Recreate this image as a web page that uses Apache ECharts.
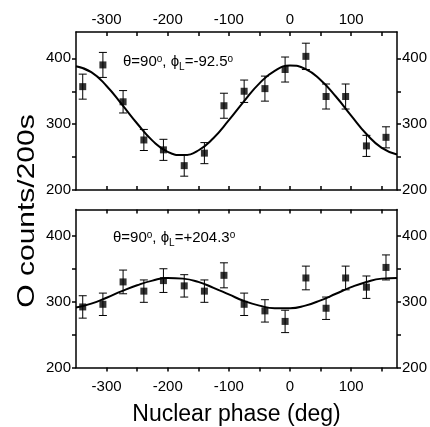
<!DOCTYPE html>
<html>
<head>
<meta charset="utf-8">
<script src="https://cdn.jsdelivr.net/npm/echarts@6/dist/echarts.min.js"></script>
<style>
  html, body { margin: 0; padding: 0; background: #fff; }
  #chart { width: 430px; height: 427px; }
</style>
</head>
<body>
<div id="chart"></div>
<script>
// measured points (both panels share the same phases)
var phase = [-339, -306, -273, -239, -207, -173, -140, -108, -75, -41, -8, 26, 59, 91, 125, 157];
var countsTop = [357, 390, 334, 276, 261, 237, 256, 328, 350, 354, 383, 403, 342, 342, 267, 280];
var errTop = [19, 19, 17, 16, 16, 16, 16, 19, 17, 19, 19, 20, 19, 19, 16, 16];
var countsBot = [292, 296, 330, 316, 332, 324, 316, 340, 296, 286, 270, 336, 290, 336, 322, 352];
var errBot = [17, 17, 18, 17, 18, 17, 17, 19, 17, 17, 17, 18, 17, 18, 17, 19];

// fitted curves
var curvePhase = [-350, -325, -300, -275, -250, -225, -200, -175, -150, -125, -100, -75, -50, -25, 0, 25, 50, 75, 100, 125, 150, 175];
var curveTop = [388, 379, 358, 330, 301, 275, 258, 253, 260, 279, 306, 335, 362, 381, 389, 384, 367, 342, 313, 285, 264, 254];
var curveBot = [291, 297, 306, 316, 325, 332, 336, 335, 330, 321, 311, 301, 294, 290, 290, 294, 302, 312, 322, 330, 335, 336];

var xTicks = [-300, -250, -200, -150, -100, -50, 0, 50, 100, 150];
var xLabels = [-300, -200, -100, 0, 100];
var yTicks = [200, 250, 300, 350, 400];
var yLabels = [200, 300, 400];

var font = 'Liberation Sans, Arial, sans-serif';

function pts(xs, ys) {
  return xs.map(function (x, i) { return [x, ys[i]]; });
}
function bars(xs, ys, es) {
  return xs.map(function (x, i) { return [x, ys[i] - es[i], ys[i] + es[i]]; });
}

function errRender(params, api) {
  var lo = api.coord([api.value(0), api.value(1)]);
  var hi = api.coord([api.value(0), api.value(2)]);
  var w = 4;
  var st = { stroke: '#000', lineWidth: 1 };
  return {
    type: 'group',
    children: [
      { type: 'line', shape: { x1: lo[0], y1: lo[1], x2: hi[0], y2: hi[1] }, style: st },
      { type: 'line', shape: { x1: lo[0] - w, y1: lo[1], x2: lo[0] + w, y2: lo[1] }, style: st },
      { type: 'line', shape: { x1: hi[0] - w, y1: hi[1], x2: hi[0] + w, y2: hi[1] }, style: st }
    ]
  };
}

function xAxis(grid, pos, showLabels, inside, name) {
  return {
    type: 'value', gridIndex: grid, position: pos, min: -350, max: 175,
    axisLine: { onZero: false, lineStyle: { color: '#000', width: 1.5 } },
    axisTick: { show: true, inside: inside, length: 4, customValues: xTicks, lineStyle: { color: '#000', width: 1.5 } },
    axisLabel: { show: showLabels, customValues: xLabels, margin: pos === 'top' ? 5 : 12, color: '#000', fontSize: 15, fontFamily: font },
    splitLine: { show: false },
    name: name || '', nameLocation: 'middle', nameGap: 36,
    nameTextStyle: { color: '#000', fontSize: 23, fontFamily: font }
  };
}

function yAxis(grid, pos) {
  return {
    type: 'value', gridIndex: grid, position: pos, min: 200, max: 440,
    axisLine: { show: true, onZero: false, lineStyle: { color: '#000', width: 1.5 } },
    axisTick: { show: true, inside: false, length: 4, customValues: yTicks, lineStyle: { color: '#000', width: 1.5 } },
    axisLabel: { customValues: yLabels, margin: 5, color: '#000', fontSize: 15, fontFamily: font },
    splitLine: { show: false }
  };
}

var rich = {
  m: { fontSize: 15, fontFamily: font, color: '#000', lineHeight: 22, verticalAlign: 'middle' },
  sup: { fontSize: 10, fontFamily: font, color: '#000', lineHeight: 22, verticalAlign: 'top', padding: [3, 0, 0, 0] },
  sub: { fontSize: 10, fontFamily: font, color: '#000', lineHeight: 22, verticalAlign: 'bottom', padding: [0, 0, 1, 0] }
};

var myChart = echarts.init(document.getElementById('chart'), null, { renderer: 'canvas' });
myChart.setOption({
  animation: false,
  backgroundColor: '#fff',
  grid: [
    { left: 76, top: 32, width: 321, height: 158, outerBoundsMode: 'none' },
    { left: 76, top: 209.5, width: 321, height: 158, outerBoundsMode: 'none' }
  ],
  xAxis: [
    xAxis(0, 'top', true, true),
    xAxis(1, 'bottom', true, false, 'Nuclear phase (deg)'),
    xAxis(0, 'bottom', false, true),
    xAxis(1, 'top', false, true)
  ],
  yAxis: [
    yAxis(0, 'left'),
    yAxis(0, 'right'),
    yAxis(1, 'left'),
    yAxis(1, 'right')
  ],
  graphic: [
    {
      type: 'text', x: 27, y: 211, rotation: Math.PI / 2, scaleX: 1.25,
      style: { text: 'O counts/200s', fontSize: 24, fontFamily: font, fill: '#000', align: 'center', verticalAlign: 'middle' }
    },
    {
      type: 'text', x: 123, y: 62,
      style: { text: '{m|θ=90}{sup|o}{m|, ϕ}{sub|L}{m|=-92.5}{sup|o}', rich: rich, verticalAlign: 'middle' }
    },
    {
      type: 'text', x: 113, y: 238,
      style: { text: '{m|θ=90}{sup|o}{m|, ϕ}{sub|L}{m|=+204.3}{sup|o}', rich: rich, verticalAlign: 'middle' }
    }
  ],
  series: [
    {
      type: 'line', xAxisIndex: 0, yAxisIndex: 0, data: pts(curvePhase, curveTop),
      smooth: true, showSymbol: false, lineStyle: { color: '#000', width: 2 }, z: 2
    },
    {
      type: 'custom', xAxisIndex: 0, yAxisIndex: 0, data: bars(phase, countsTop, errTop),
      renderItem: errRender, encode: { x: 0, y: [1, 2] }, z: 3
    },
    {
      type: 'scatter', xAxisIndex: 0, yAxisIndex: 0, data: pts(phase, countsTop),
      symbol: 'rect', symbolSize: 7, itemStyle: { color: '#000' }, z: 4
    },
    {
      type: 'line', xAxisIndex: 1, yAxisIndex: 2, data: pts(curvePhase, curveBot),
      smooth: true, showSymbol: false, lineStyle: { color: '#000', width: 2 }, z: 2
    },
    {
      type: 'custom', xAxisIndex: 1, yAxisIndex: 2, data: bars(phase, countsBot, errBot),
      renderItem: errRender, encode: { x: 0, y: [1, 2] }, z: 3
    },
    {
      type: 'scatter', xAxisIndex: 1, yAxisIndex: 2, data: pts(phase, countsBot),
      symbol: 'rect', symbolSize: 7, itemStyle: { color: '#000' }, z: 4
    }
  ]
});
</script>
</body>
</html>
